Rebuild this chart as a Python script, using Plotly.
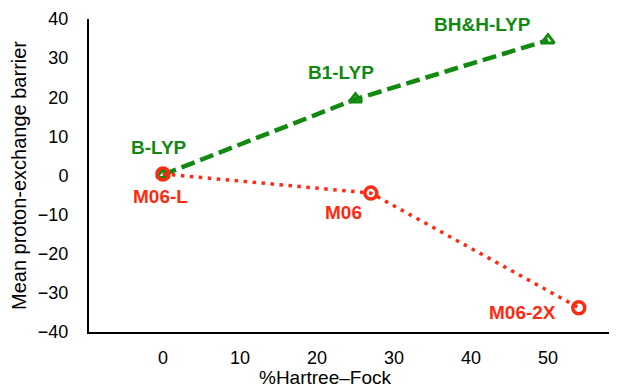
import plotly.graph_objects as go

# Data
lyp_names = ["B-LYP", "B1-LYP", "BH&H-LYP"]
lyp_hf = [0, 25, 50]
lyp_barrier = [0.2, 19.5, 34.6]

m06_names = ["M06-L", "M06", "M06-2X"]
m06_hf = [0, 27, 54]
m06_barrier = [0.4, -4.5, -33.8]

y_ticks = [-40, -30, -20, -10, 0, 10, 20, 30, 40]
y_ticklabels = ["\u221240", "\u221230", "\u221220", "\u221210", "0", "10", "20", "30", "40"]
x_ticks = [0, 10, 20, 30, 40, 50]

GREEN = "#128a12"
RED = "#ff2a12"
FONT = "Liberation Sans, Arial, sans-serif"

W, H = 617, 387
ML, MR, MT, MB = 81, 0, 11, 63

fig = go.Figure()
fig.add_trace(go.Scatter(
    x=lyp_hf, y=lyp_barrier, mode="lines+markers",
    line=dict(color=GREEN, width=4.5, dash="14px,6px"),
    marker=dict(symbol="triangle-up-open", size=11, color=GREEN, line=dict(width=3, color=GREEN)),
    showlegend=False, cliponaxis=False,
))
fig.add_trace(go.Scatter(
    x=m06_hf, y=m06_barrier, mode="lines+markers",
    line=dict(color=RED, width=3.5, dash="3.5px,5.5px"),
    marker=dict(symbol="circle-open", size=12, color=RED, line=dict(width=3.5, color=RED)),
    showlegend=False, cliponaxis=False,
))

lyp_shift = [(-4, 27), (-14, 27), (-65, 16)]
m06_shift = [(-2, -23), (-27, -19), (-56, -5)]
for n, x, y, (dx, dy) in zip(lyp_names, lyp_hf, lyp_barrier, lyp_shift):
    fig.add_annotation(x=x, y=y, text=f"<b>{n}</b>", showarrow=False, xshift=dx, yshift=dy,
                       font=dict(family=FONT, size=19, color=GREEN))
for n, x, y, (dx, dy) in zip(m06_names, m06_hf, m06_barrier, m06_shift):
    fig.add_annotation(x=x, y=y, text=f"<b>{n}</b>", showarrow=False, xshift=dx, yshift=dy,
                       font=dict(family=FONT, size=19, color=RED))

# x-axis title placed as annotation
plot_w = W - ML - MR
plot_h = H - MT - MB
fig.add_annotation(x=(317 - ML) / plot_w, xref="paper",
                   y=(H - MB - 369) / plot_h, yref="paper", yanchor="middle",
                   text="%Hartree\u2013Fock", showarrow=False,
                   font=dict(family=FONT, size=19, color="black"))

fig.update_layout(
    width=W, height=H,
    margin=dict(l=ML, r=MR, t=MT, b=MB),
    paper_bgcolor="white", plot_bgcolor="white",
    font=dict(family=FONT, size=18, color="black"),
    xaxis=dict(range=[-9.6, 60.0], tickvals=x_ticks, showgrid=False, zeroline=False,
               showline=True, linecolor="black", linewidth=2, ticks="", automargin=False,
               ticklabelstandoff=8, tickfont=dict(size=18)),
    yaxis=dict(range=[-40, 40], tickvals=y_ticks, ticktext=y_ticklabels, showgrid=False,
               zeroline=False, showline=True, linecolor="black", linewidth=2, ticks="",
               automargin=False, ticklabelstandoff=15, tickfont=dict(size=18),
               title=dict(text="Mean proton-exchange barrier", font=dict(size=20), standoff=8)),
)

fig.write_html("out.html")
